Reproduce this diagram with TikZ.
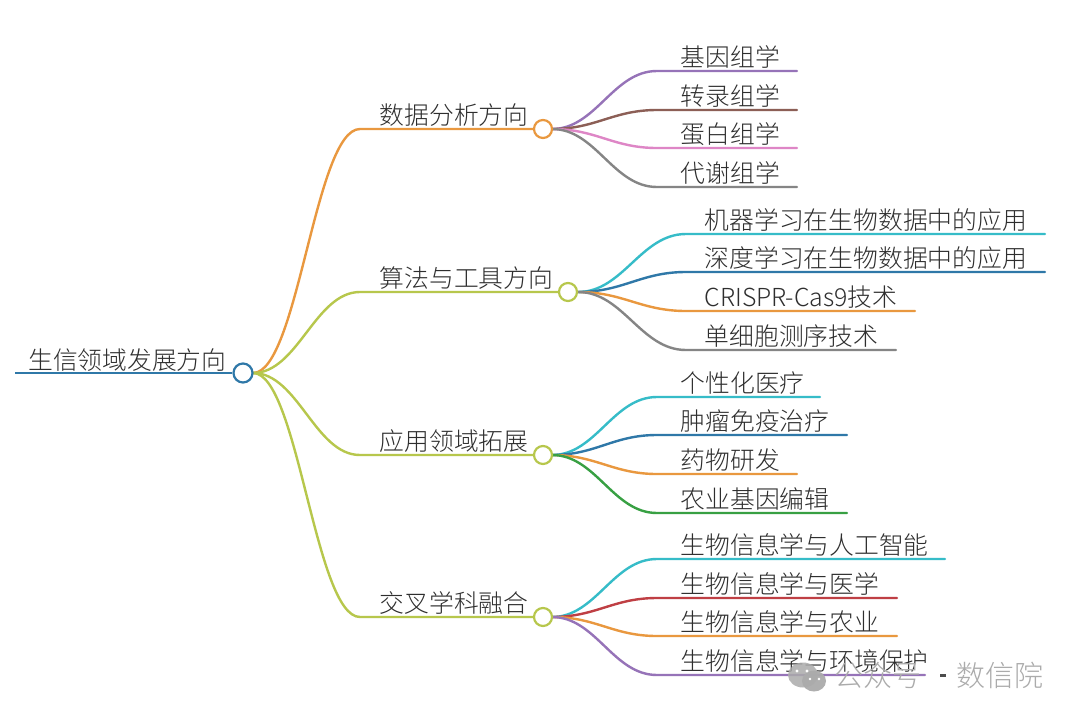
\documentclass[tikz,border=0pt]{standalone}
\usepackage{fontspec}
\setmainfont{Noto Sans CJK SC Light}
\definecolor{cblue}{HTML}{2F78A8}
\definecolor{corange}{HTML}{E9983F}
\definecolor{colive}{HTML}{B7C74C}
\definecolor{cpurple}{HTML}{9673B8}
\definecolor{cbrown}{HTML}{8C5F56}
\definecolor{cpink}{HTML}{DE86C6}
\definecolor{cgray}{HTML}{858585}
\definecolor{ccyan}{HTML}{36BCC8}
\definecolor{cgreen}{HTML}{38A043}
\definecolor{cred}{HTML}{BF3F44}
\definecolor{ctext}{HTML}{2E2E2E}
\definecolor{cwater}{HTML}{ABABAB}
\tikzset{
  x=1pt,y=-1pt,
  conn/.style={line width=2.4pt,line cap=round},
  hub/.style={circle,draw,fill=white,line width=2.2pt,minimum size=18pt,inner sep=0pt},
  lbl/.style={anchor=base west,inner sep=0pt,text=ctext,font=\fontsize{24.8}{26}\selectfont},
  wm/.style={anchor=base west,inner sep=0pt,text=cwater,font=\fontsize{29}{31}\selectfont},
}
% \branch{from}{colour}{y}{bend x}{end x}{text x}{name}{text}
\newcommand{\branch}[8]{%
  \coordinate (#7k) at (#4,#3);
  \coordinate (#7e) at (#5,#3);
  \draw[conn,#2] (#1) .. controls ([xshift=0.42*(#4-\csname hx#1\endcsname)*1pt]#1) and ([xshift=-0.42*(#4-\csname hx#1\endcsname)*1pt]#7k) .. (#7k) -- (#7e);
  \node[lbl] (#7) at (#6,#3-4.2) {#8};
}
\begin{document}
\begin{tikzpicture}
\useasboundingbox[fill=white] (0,0) rectangle (1080,718);
% start points of the fans
\coordinate (s0) at (253,373);
\coordinate (s1) at (552,129);
\coordinate (s2) at (578,292);
\coordinate (s3) at (552,455);
\coordinate (s4) at (552,617);
\expandafter\def\csname hxs0\endcsname{253}
\expandafter\def\csname hxs1\endcsname{552}
\expandafter\def\csname hxs2\endcsname{578}
\expandafter\def\csname hxs3\endcsname{552}
\expandafter\def\csname hxs4\endcsname{552}
% level 2
\branch{s1}{cpurple}{71}{657}{797}{680.5}{a1}{基因组学}
\branch{s1}{cbrown}{110}{657}{797}{680.5}{a2}{转录组学}
\branch{s1}{cpink}{148}{657}{797}{680.5}{a3}{蛋白组学}
\branch{s1}{cgray}{187}{657}{797}{680.5}{a4}{代谢组学}
\branch{s2}{ccyan}{234}{686}{1045}{704.5}{b1}{机器学习在生物数据中的应用}
\branch{s2}{cblue}{272}{686}{1045}{704.5}{b2}{深度学习在生物数据中的应用}
\branch{s2}{corange}{311}{686}{915}{704.5}{b3}{CRISPR-Cas9技术}
\branch{s2}{cgray}{350}{686}{896}{704.5}{b4}{单细胞测序技术}
\branch{s3}{ccyan}{397}{657}{820}{680.5}{c1}{个性化医疗}
\branch{s3}{cblue}{435}{657}{847}{680.5}{c2}{肿瘤免疫治疗}
\branch{s3}{corange}{474}{657}{797}{680.5}{c3}{药物研发}
\branch{s3}{cgreen}{513}{657}{847}{680.5}{c4}{农业基因编辑}
\branch{s4}{ccyan}{559}{657}{945}{680.5}{d1}{生物信息学与人工智能}
\branch{s4}{cred}{598}{657}{897}{680.5}{d2}{生物信息学与医学}
\branch{s4}{corange}{636}{657}{897}{680.5}{d3}{生物信息学与农业}
\branch{s4}{cpurple}{675}{657}{925}{680.5}{d4}{生物信息学与环境保护}
% level 1
\coordinate (r1) at (543,129);
\coordinate (r2) at (568,292);
\coordinate (r3) at (543,455);
\coordinate (r4) at (543,617);
\branch{s0}{corange}{129}{360}{543}{379.5}{m1}{数据分析方向}
\branch{s0}{colive}{292}{360}{568}{379.5}{m2}{算法与工具方向}
\branch{s0}{colive}{455}{360}{543}{379.5}{m3}{应用领域拓展}
\branch{s0}{colive}{617}{360}{543}{379.5}{m4}{交叉学科融合}
\node[hub,draw=corange] (h1) at (r1) {};
\node[hub,draw=colive] (h2) at (r2) {};
\node[hub,draw=colive] (h3) at (r3) {};
\node[hub,draw=colive] (h4) at (r4) {};
% root
\coordinate (rs) at (15,373);
\node[hub,draw=cblue,minimum size=19pt] (h0) at (243,373) {};
\draw[conn,cblue,line width=2.8pt,line cap=butt] (rs) -- (h0.west);
\node[lbl] (root) at (28,369) {生信领域发展方向};
% watermark
\fill[cwater,fill opacity=.85] (803,675) ellipse (15pt and 12.5pt);
\fill[cwater,fill opacity=.95] (814,681) ellipse (12pt and 10.5pt);
\fill[white] (797,671) circle (1.7pt) (807,671) circle (1.7pt) (810,679) circle (1.4pt) (819,679) circle (1.4pt);
\node[wm] (w1) at (834,686) {公众号};
\fill[cwater!45!black] (940,674) rectangle (946,676.5);
\node[wm] (w2) at (956,686) {数信院};
\end{tikzpicture}
\end{document}
